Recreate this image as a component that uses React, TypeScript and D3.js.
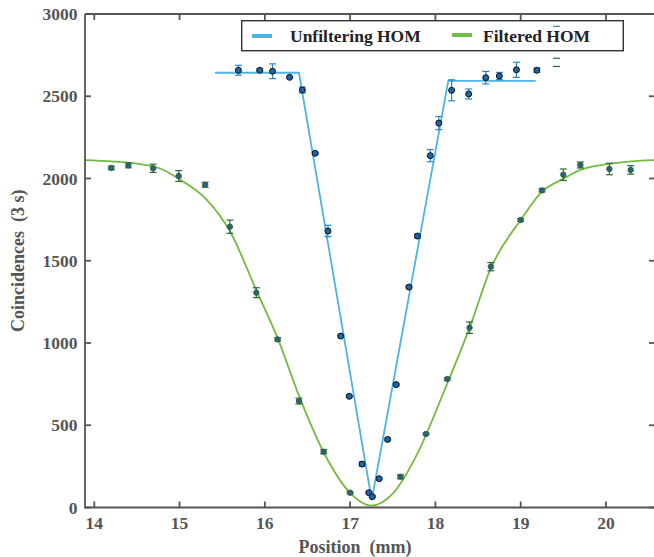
import React from "react";
import * as d3 from "d3";

// Unfiltered HOM dip: position (mm), coincidences, error
const unfilteredX = [15.69, 15.94, 16.09, 16.29, 16.44, 16.59, 16.74, 16.89, 16.99, 17.14, 17.22, 17.26, 17.34, 17.44, 17.54, 17.69, 17.79, 17.94, 18.04, 18.19, 18.39, 18.59, 18.75, 18.95, 19.19];
const unfilteredY = [2658, 2658, 2652, 2615, 2538, 2153, 1681, 1042, 676, 264, 90, 66, 175, 414, 747, 1340, 1650, 2139, 2337, 2536, 2514, 2613, 2623, 2661, 2658];
const unfilteredErr = [30, 8, 45, 6, 18, 6, 35, 6, 5, 14, 6, 6, 6, 8, 6, 6, 12, 37, 40, 64, 30, 38, 22, 46, 13];

// Filtered HOM dip
const filteredX = [14.2, 14.4, 14.69, 14.99, 15.3, 15.59, 15.9, 16.15, 16.4, 16.69, 17.0, 17.59, 17.89, 18.14, 18.4, 18.65, 19.0, 19.25, 19.5, 19.7, 20.04, 20.29];
const filteredY = [2064, 2080, 2062, 2015, 1962, 1707, 1306, 1022, 647, 339, 90, 187, 447, 781, 1093, 1464, 1748, 1928, 2023, 2082, 2058, 2052];
const filteredErr = [10, 15, 25, 33, 15, 40, 30, 10, 18, 12, 6, 12, 6, 8, 35, 25, 8, 10, 35, 18, 35, 26];

// Fitted curves
const unfilteredFitX = [15.415, 16.4, 17.253, 18.151, 19.176];
const unfilteredFitY = [2643, 2643, 45, 2593, 2593];
const filteredFitX = [13.89, 14.2, 14.5, 14.8, 15.0, 15.3, 15.6, 15.9, 16.15, 16.4, 16.7, 17.0, 17.25, 17.5, 17.8, 18.1, 18.4, 18.65, 19.0, 19.25, 19.5, 19.7, 20.0, 20.3, 20.58];
const filteredFitY = [2112, 2104, 2090, 2055, 1995, 1880, 1670, 1320, 1030, 680, 325, 88, 12, 85, 340, 705, 1092, 1455, 1748, 1920, 1998, 2052, 2086, 2104, 2112];

// Lone error-bar caps of a reading at 19.42 mm
const loneCapX = [19.42, 19.42, 19.42];
const loneCapY = [2925, 2731, 2681];
const loneCapSeries = ["u", "f", "f"];

const xTicks = [14, 15, 16, 17, 18, 19, 20];
const yTicks = [0, 500, 1000, 1500, 2000, 2500, 3000];
const legendLabels = ["Unfiltering HOM", "Filtered HOM"];

const W = 654;
const H = 557;
const left = 85;
const right = 655;
const top = 14;
const bottom = 507.5;

const BLUE = "#4cb5e5";
const GREEN = "#72bb3e";
const BLUE_ERR = "#2f84c8";
const GREEN_ERR = "#2c6a3a";
const AXIS = "#555555";
const FONT = "'Liberation Serif', 'Times New Roman', serif";

export default function App() {
  const x = d3.scaleLinear().domain([13.891, 20.575]).range([left, right]);
  const y = d3.scaleLinear().domain([0, 3000]).range([bottom, top]);

  const line = d3
    .line<[number, number]>()
    .x((d) => x(d[0]))
    .y((d) => y(d[1]));
  const smooth = d3
    .line<[number, number]>()
    .x((d) => x(d[0]))
    .y((d) => y(d[1]))
    .curve(d3.curveMonotoneX);

  const uFit = unfilteredFitX.map((v, i) => [v, unfilteredFitY[i]] as [number, number]);
  const fFit = filteredFitX.map((v, i) => [v, filteredFitY[i]] as [number, number]);

  const cap = 3.5;
  const tick = 6;

  const errBars = (xs: number[], ys: number[], es: number[], color: string, fill: string, edge: string, r: number, key: string) =>
    xs.map((xv, i) => {
      const cx = x(xv);
      const y0 = y(ys[i] - es[i]);
      const y1 = y(ys[i] + es[i]);
      return (
        <g key={key + i}>
          <line x1={cx} x2={cx} y1={y0} y2={y1} stroke={color} strokeWidth={1.2} />
          <line x1={cx - cap} x2={cx + cap} y1={y0} y2={y0} stroke={color} strokeWidth={1.2} />
          <line x1={cx - cap} x2={cx + cap} y1={y1} y2={y1} stroke={color} strokeWidth={1.2} />
          <circle cx={cx} cy={y(ys[i])} r={r} fill={fill} stroke={edge} strokeWidth={1} />
        </g>
      );
    });

  return (
    <div style={{ position: "fixed", left: 0, top: 0 }}>
      <svg width={W} height={H} style={{ display: "block" }}>
        <rect x={0} y={0} width={W} height={H} fill="#ffffff" />
        <defs>
          <clipPath id="plotArea">
            <rect x={left} y={top} width={right - left} height={bottom - top} />
          </clipPath>
        </defs>

        {/* fitted curves */}
        <g clipPath="url(#plotArea)">
          <path d={smooth(fFit) || ""} fill="none" stroke={GREEN} strokeWidth={1.8} />
          <path d={line(uFit) || ""} fill="none" stroke={BLUE} strokeWidth={1.8} />
        </g>

        {/* measured points */}
        {errBars(filteredX, filteredY, filteredErr, GREEN_ERR, "#2e5f80", "#2c6a3a", 2.7, "f")}
        {errBars(unfilteredX, unfilteredY, unfilteredErr, BLUE_ERR, "#1f64a8", "#111111", 3, "u")}

        {/* frame */}
        <g stroke={AXIS} strokeWidth={1.8} fill="none">
          <line x1={left} x2={right} y1={top} y2={top} />
          <line x1={left} x2={right} y1={bottom} y2={bottom} />
          <line x1={left} x2={left} y1={top} y2={bottom + 1} />
          <line x1={right} x2={right} y1={top} y2={bottom} />
          {xTicks.map((t) => (
            <g key={"xt" + t}>
              <line x1={x(t)} x2={x(t)} y1={bottom} y2={bottom - tick} />
              <line x1={x(t)} x2={x(t)} y1={top} y2={top + tick} />
            </g>
          ))}
          {yTicks.map((t) => (
            <g key={"yt" + t}>
              <line x1={left} x2={left + tick} y1={y(t)} y2={y(t)} />
              <line x1={right} x2={right - tick} y1={y(t)} y2={y(t)} />
            </g>
          ))}
        </g>

        {/* tick labels */}
        <g fontFamily={FONT} fontWeight="bold" fontSize={17.5} fill={AXIS}>
          {xTicks.map((t) => (
            <text key={"xl" + t} x={x(t)} y={528.5} textAnchor="middle">
              {t}
            </text>
          ))}
          {yTicks.map((t) => (
            <text key={"yl" + t} x={77.5} y={y(t) + 6} textAnchor="end">
              {t}
            </text>
          ))}
        </g>

        {/* axis titles */}
        <text x={355} y={553} textAnchor="middle" fontFamily={FONT} fontWeight="bold" fontSize={18} fill={AXIS} style={{ whiteSpace: "pre" }}>
          {"Position  (mm)"}
        </text>
        <text
          transform={`translate(24, ${(top + bottom) / 2}) rotate(-90)`}
          textAnchor="middle"
          fontFamily={FONT}
          fontWeight="bold"
          fontSize={18}
          fill={AXIS}
          style={{ whiteSpace: "pre" }}
        >
          {"Coincidences  (3 s)"}
        </text>

        {/* legend */}
        <g>
          <rect x={241.7} y={20.7} width={381.6} height={30} fill="#ffffff" stroke="#333333" strokeWidth={1.4} />
          <line x1={252} x2={272} y1={36} y2={36} stroke={BLUE} strokeWidth={4} />
          <text x={290} y={42} fontFamily={FONT} fontWeight="bold" fontSize={17.5} fill="#222222">
            {legendLabels[0]}
          </text>
          <line x1={452} x2={472} y1={35} y2={35} stroke={GREEN} strokeWidth={4} />
          <text x={483} y={42} fontFamily={FONT} fontWeight="bold" fontSize={17.5} fill="#222222">
            {legendLabels[1]}
          </text>
        </g>

        {/* lone caps */}
        {loneCapX.map((xv, i) => (
          <line
            key={"lc" + i}
            x1={x(xv) - cap}
            x2={x(xv) + cap}
            y1={y(loneCapY[i])}
            y2={y(loneCapY[i])}
            stroke={loneCapSeries[i] === "u" ? BLUE_ERR : GREEN_ERR}
            strokeWidth={1.2}
          />
        ))}
      </svg>
    </div>
  );
}
